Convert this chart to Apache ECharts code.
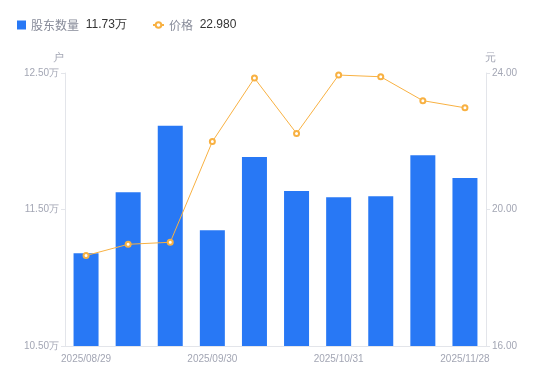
<!DOCTYPE html>
<html>
<head>
<meta charset="utf-8">
<script src="https://cdn.jsdelivr.net/npm/echarts@6/dist/echarts.min.js"></script>
<style>
  html, body { margin: 0; padding: 0; background: #fff; }
  #chart { width: 550px; height: 381px; }
</style>
</head>
<body>
<div id="chart"></div>
<script>
// report dates (only some are shown on the axis)
const dates = [
  "2025/08/29", "2025/09/10", "2025/09/19", "2025/09/30", "2025/10/10",
  "2025/10/20", "2025/10/31", "2025/11/10", "2025/11/20", "2025/11/28",
];
// shareholder count (户)
const holders = [111790, 116260, 121140, 113480, 118850, 116360, 115890, 115970, 118970, 117300];
// price (元)
const prices = [18.65, 18.98, 19.04, 21.99, 23.85, 22.23, 23.94, 23.89, 23.19, 22.98];

const BLUE = "#2878f5";
const ORANGE = "#f8b142";
const AXIS_TEXT = "#a3a6b4";
const AXIS_LINE = "#e3e5ea";

const lastHolders = (holders[holders.length - 1] / 10000).toFixed(2) + "万";
const lastPrice = prices[prices.length - 1].toFixed(3);

const chart = echarts.init(document.getElementById("chart"));

const legendText = {
  rich: {
    n: { color: "#878b99", fontSize: 12, fontFamily: "Noto Sans CJK SC" },
    v: { color: "#333", fontSize: 12, fontFamily: "Liberation Sans" },
  },
};
const legendLabel = (name) => {
  const v = name === "股东数量" ? lastHolders : lastPrice;
  return "{n|" + name + "}  {v|" + v + "}";
};

const option = {
  animation: false,
  legend: [
    {
      left: 12,
      top: 14,
      itemWidth: 9,
      itemHeight: 9,
      data: [{ name: "股东数量", icon: "rect" }],
      formatter: legendLabel,
      textStyle: legendText,
    },
    {
      left: 147,
      top: 14,
      itemWidth: 11,
      itemHeight: 7,
      data: [{ name: "价格" }],
      formatter: legendLabel,
      textStyle: legendText,
    },
  ],
  grid: { left: 65, right: 64, top: 73, bottom: 35 },
  xAxis: {
    type: "category",
    data: dates,
    axisLine: { lineStyle: { color: AXIS_LINE } },
    axisTick: { show: false },
    axisLabel: {
      interval: 2,
      color: AXIS_TEXT,
      fontSize: 10,
      fontFamily: "Liberation Sans",
      margin: 8,
    },
  },
  yAxis: [
    {
      type: "value",
      name: "户",
      nameGap: 10,
      nameTextStyle: { color: AXIS_TEXT, fontSize: 11, padding: [0, 14, 0, 0] },
      min: 105000,
      max: 125000,
      interval: 10000,
      splitLine: { show: false },
      axisLine: { show: true, lineStyle: { color: AXIS_LINE } },
      axisTick: { show: true, length: 4, lineStyle: { color: AXIS_LINE } },
      axisLabel: {
        color: AXIS_TEXT,
        fontSize: 10,
        fontFamily: "Liberation Sans",
        margin: 6,
        formatter: (v) => (v / 10000).toFixed(2) + "万",
      },
    },
    {
      type: "value",
      name: "元",
      nameGap: 10,
      nameTextStyle: { color: AXIS_TEXT, fontSize: 11, padding: [0, 0, 0, 8] },
      min: 16,
      max: 24,
      interval: 4,
      splitLine: { show: false },
      axisLine: { show: true, lineStyle: { color: AXIS_LINE } },
      axisTick: { show: true, length: 4, lineStyle: { color: AXIS_LINE } },
      axisLabel: {
        color: AXIS_TEXT,
        fontSize: 10,
        fontFamily: "Liberation Sans",
        margin: 6,
        formatter: (v) => v.toFixed(2),
      },
    },
  ],
  series: [
    {
      name: "股东数量",
      type: "bar",
      yAxisIndex: 0,
      barWidth: 25,
      itemStyle: { color: BLUE },
      data: holders,
    },
    {
      name: "价格",
      type: "line",
      yAxisIndex: 1,
      symbol: "emptyCircle",
      symbolSize: 5,
      lineStyle: { color: ORANGE, width: 1 },
      itemStyle: { color: ORANGE, borderWidth: 1.5 },
      data: prices,
    },
  ],
};

chart.setOption(option);
</script>
</body>
</html>
